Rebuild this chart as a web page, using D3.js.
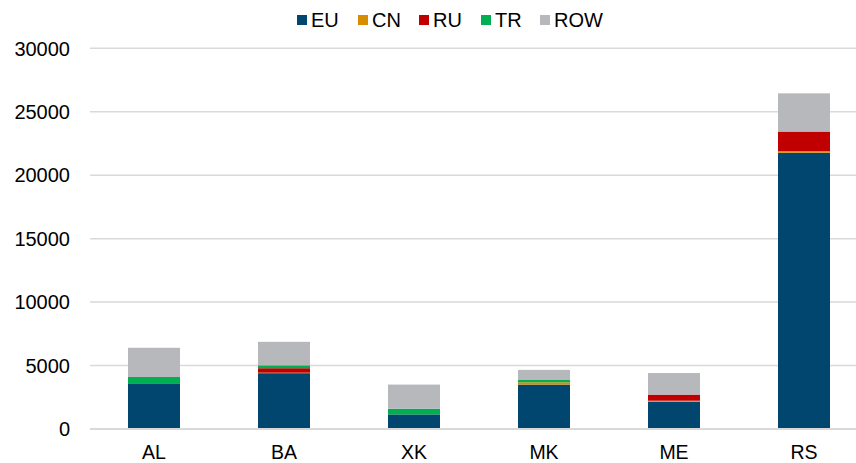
<!DOCTYPE html>
<html><head><meta charset="utf-8">
<script src="https://cdn.jsdelivr.net/npm/d3@7"></script>
<style>body{margin:0;background:#fff}svg{display:block}text{font-family:"Liberation Sans",Arial,sans-serif;fill:#000}</style>
</head><body><svg id="c" width="856" height="463"></svg>
<script>
const categories = ["AL","BA","XK","MK","ME","RS"];
const seriesNames = ["EU","CN","RU","TR","ROW"];
const EU  = [3600, 4400, 1150, 3500, 2150, 21770];
const CN  = [0, 40, 0, 180, 80, 130];
const RU  = [0, 350, 0, 0, 480, 1530];
const TR  = [500, 230, 450, 180, 0, 20];
const ROW = [2300, 1850, 1900, 800, 1700, 3000];
const yTicks = [0,5000,10000,15000,20000,25000,30000];
const colors = ["#00466E","#D98C00","#C00000","#00B050","#B7B8BC"];

const seriesVals = [EU,CN,RU,TR,ROW];
const data = categories.map((c,i)=>{const o={cat:c};seriesNames.forEach((s,j)=>o[s]=seriesVals[j][i]);return o;});
const stack = d3.stack().keys(seriesNames)(data);

const svg = d3.select("#c");
const x = d3.scaleBand().domain(categories).range([89,869]).paddingInner(0.6).paddingOuter(0.3);
const y = d3.scaleLinear().domain([0,30000]).range([429,48.3]);

// grid
svg.append("g").selectAll("line").data(yTicks).join("line")
  .attr("x1",90).attr("x2",856).attr("y1",d=>y(d)).attr("y2",d=>y(d))
  .attr("stroke","#D9D9D9").attr("stroke-width",1.5);

// y labels
svg.append("g").selectAll("text").data(yTicks).join("text")
  .attr("x",70).attr("y",d=>y(d)).attr("dy","0.36em").attr("text-anchor","end")
  .attr("font-size",20).text(d=>d);

// bars
svg.append("g").selectAll("g").data(stack).join("g").attr("fill",(d,i)=>colors[i])
  .selectAll("rect").data(d=>d).join("rect")
  .attr("x",d=>x(d.data.cat)).attr("width",x.bandwidth())
  .attr("y",d=>y(d[1])).attr("height",d=>Math.max(0,y(d[0])-y(d[1])));

// x axis line
svg.append("line").attr("x1",90).attr("x2",856).attr("y1",y(0)).attr("y2",y(0))
  .attr("stroke","#D9D9D9").attr("stroke-width",2);

// x labels
svg.append("g").selectAll("text").data(categories).join("text")
  .attr("x",d=>x(d)+x.bandwidth()/2).attr("y",458.5)
  .attr("text-anchor","middle").attr("font-size",19.5).text(d=>d);

// legend
const legX = [297,358,419,481,540];
const lg = svg.append("g").selectAll("g").data(seriesNames).join("g")
  .attr("transform",(d,i)=>`translate(${legX[i]},20)`);
lg.append("rect").attr("x",0).attr("y",-5).attr("width",10).attr("height",10).attr("fill",(d,i)=>colors[i]);
lg.append("text").attr("x",14).attr("y",0).attr("dy","0.36em").attr("font-size",20).text(d=>d);
</script></body></html>
